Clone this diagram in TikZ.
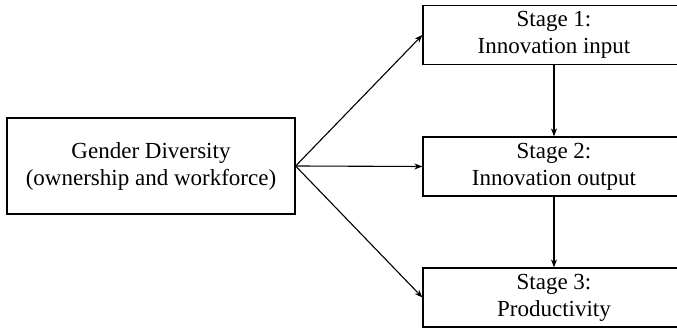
\documentclass[tikz,border=0pt]{standalone}
\usepackage{fontspec}
\setmainfont{Liberation Serif}
\usetikzlibrary{arrows.meta}
\begin{document}
\begin{tikzpicture}[x=1pt,y=1pt,
  box/.style={draw, line width=1.2pt, minimum width=262pt, minimum height=59pt, align=center, inner sep=0pt, font=\fontsize{23}{27}\selectfont},
  arr/.style={line width=1.1pt, -{Stealth[length=8pt,width=6pt]}}]
\useasboundingbox (0,0) rectangle (677,328);
\node[box, minimum width=288pt, minimum height=96pt] (gd) at (151,162) {Gender Diversity\\(ownership and workforce)};
\node[box] (s1) at (554,293) {Stage 1:\\Innovation input};
\node[box] (s2) at (554,161.5) {Stage 2:\\Innovation output};
\node[box] (s3) at (554,30.5) {Stage 3:\\Productivity};
\draw[arr] (gd.east) -- (s1.west);
\draw[arr] (gd.east) -- (s2.west);
\draw[arr] (gd.east) -- (s3.west);
\draw[arr] (s1.south) -- (s2.north);
\draw[arr] (s2.south) -- (s3.north);
\end{tikzpicture}
\end{document}
